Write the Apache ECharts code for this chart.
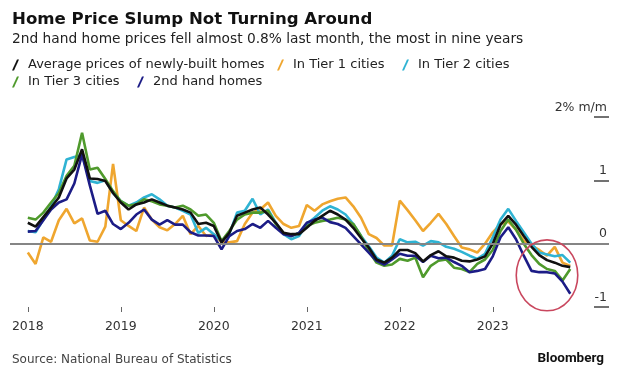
<!DOCTYPE html>
<html>
<head>
<meta charset="utf-8">
<script src="https://cdn.jsdelivr.net/npm/echarts@6/dist/echarts.min.js"></script>
<style>
html,body{margin:0;padding:0;background:#fff;}
#chart{width:620px;height:373px;}
</style>
</head>
<body>
<div id="chart"></div>
<script>
// ---- data (monthly, Jan 2018 .. Nov 2023), % m/m ----
const startYear = 2018;
const yearTicks = ['2018', '2019', '2020', '2021', '2022', '2023'];
const yTickLabels = ['-1', '0', '1', '2% m/m'];

const seriesNames = [
  'Average prices of newly-built homes',
  'In Tier 1 cities',
  'In Tier 2 cities',
  'In Tier 3 cities',
  '2nd hand homes'
];

const newHomes = [
  0.33, 0.27, 0.42, 0.57, 0.73, 1.03, 1.17, 1.49, 1.03, 1.02, 0.99, 0.80,
  0.65, 0.54, 0.62, 0.65, 0.70, 0.65, 0.60, 0.57, 0.54, 0.49, 0.31, 0.33,
  0.28, 0.02, 0.17, 0.44, 0.49, 0.54, 0.57, 0.46, 0.33, 0.17, 0.15, 0.15,
  0.25, 0.36, 0.44, 0.52, 0.46, 0.38, 0.25, 0.09, -0.06, -0.25, -0.30, -0.22,
  -0.10, -0.10, -0.15, -0.28, -0.18, -0.12, -0.20, -0.22, -0.27, -0.28, -0.25, -0.20,
  0.00, 0.30, 0.44, 0.30, 0.12, -0.05, -0.18, -0.26, -0.30, -0.35, -0.37
];
const tier1 = [
  -0.14, -0.32, 0.10, 0.03, 0.37, 0.55, 0.32, 0.40, 0.05, 0.03, 0.27, 1.26,
  0.37, 0.28, 0.20, 0.57, 0.38, 0.26, 0.21, 0.31, 0.44, 0.15, 0.28, 0.12,
  0.15, 0.02, 0.02, 0.04, 0.31, 0.49, 0.54, 0.65, 0.44, 0.31, 0.25, 0.28,
  0.61, 0.52, 0.62, 0.67, 0.71, 0.73, 0.59, 0.41, 0.15, 0.09, -0.03, -0.03,
  0.68, 0.53, 0.37, 0.20, 0.33, 0.47, 0.31, 0.12, -0.06, -0.09, -0.14, 0.00,
  0.18, 0.31, 0.35, 0.22, 0.05, -0.03, -0.10, -0.19, -0.05, -0.30, -0.35
];
const tier2 = [
  0.20, 0.18, 0.38, 0.59, 0.86, 1.33, 1.37, 1.40, 0.99, 0.96, 1.00, 0.80,
  0.67, 0.60, 0.65, 0.73, 0.78, 0.70, 0.60, 0.57, 0.52, 0.46, 0.17, 0.25,
  0.15, 0.04, 0.15, 0.49, 0.52, 0.71, 0.46, 0.54, 0.33, 0.15, 0.07, 0.12,
  0.31, 0.41, 0.52, 0.59, 0.54, 0.46, 0.31, 0.12, -0.04, -0.22, -0.30, -0.19,
  0.07, 0.02, 0.03, -0.03, 0.04, 0.02, -0.05, -0.08, -0.13, -0.19, -0.24, -0.16,
  0.10, 0.38, 0.55, 0.36, 0.18, 0.00, -0.14, -0.17, -0.20, -0.18, -0.30
];
const tier3 = [
  0.41, 0.38, 0.49, 0.65, 0.80, 1.07, 1.23, 1.75, 1.17, 1.20, 1.02, 0.83,
  0.67, 0.60, 0.62, 0.70, 0.67, 0.62, 0.60, 0.57, 0.60, 0.54, 0.44, 0.46,
  0.33, 0.04, 0.20, 0.38, 0.46, 0.49, 0.49, 0.52, 0.31, 0.17, 0.12, 0.17,
  0.28, 0.33, 0.36, 0.38, 0.41, 0.38, 0.31, 0.12, -0.12, -0.30, -0.35, -0.33,
  -0.24, -0.27, -0.22, -0.53, -0.35, -0.27, -0.25, -0.38, -0.40, -0.45, -0.32, -0.25,
  -0.10, 0.20, 0.38, 0.22, 0.00, -0.18, -0.32, -0.40, -0.43, -0.58, -0.40
];
const secondHand = [
  0.19, 0.20, 0.37, 0.54, 0.65, 0.70, 0.95, 1.41, 0.92, 0.47, 0.52, 0.31,
  0.23, 0.33, 0.46, 0.54, 0.38, 0.30, 0.37, 0.30, 0.30, 0.18, 0.13, 0.13,
  0.12, -0.09, 0.12, 0.20, 0.23, 0.31, 0.25, 0.36, 0.25, 0.15, 0.12, 0.17,
  0.33, 0.38, 0.41, 0.34, 0.31, 0.25, 0.12, -0.01, -0.14, -0.27, -0.33, -0.25,
  -0.16, -0.19, -0.19, -0.29, -0.19, -0.23, -0.22, -0.29, -0.35, -0.45, -0.43, -0.40,
  -0.20, 0.10, 0.26, 0.07, -0.19, -0.43, -0.45, -0.45, -0.47, -0.60, -0.79
];

// annotation ellipse in data space: [centre month index, centre value, radius months, radius value]
const highlight = [67.0, -0.5, 3.97, 0.56];

const colors = ['#111111', '#EFA62F', '#2FB3D3', '#4F9A2C', '#1C1C86'];
const seriesData = [newHomes, tier1, tier2, tier3, secondHand];

const FONT = 'DejaVu Sans';
const chart = echarts.init(document.getElementById('chart'), null, {renderer: 'canvas'});

const toPairs = arr => arr.map((v, i) => [i, v]);
const slash = 'path://M0,11 L5,0 L7,0 L2,11 Z';

const legendPos = [[7, 52], [272, 52], [397, 52], [7, 69], [132, 69]];
const legends = seriesNames.map((n, k) => ({
  data: [n],
  left: legendPos[k][0], top: legendPos[k][1],
  icon: slash, itemWidth: 7, itemHeight: 11, itemGap: 0,
  selectedMode: false,
  textStyle: {fontFamily: FONT, fontSize: 13, color: '#222', padding: [0, 0, 0, 4], lineHeight: 16}
}));

const drawOrder = [1, 2, 3, 4, 0];
const series = drawOrder.map(k => ({
  name: seriesNames[k],
  type: 'line',
  data: toPairs(seriesData[k]),
  showSymbol: false,
  symbol: 'none',
  color: colors[k],
  itemStyle: {color: colors[k]},
  lineStyle: {color: colors[k], width: 2.6},
  z: 3,
  silent: true
}));
series.unshift({
  type: 'line', data: [], z: 2, silent: true,
  markLine: {
    silent: true, symbol: 'none', label: {show: false},
    lineStyle: {color: '#858585', width: 1.8, type: 'solid'},
    data: [{yAxis: 0}]
  }
});

const tickIdx = yearTicks.map((y, i) => i * 12);

chart.setOption({
  animation: false,
  backgroundColor: '#fff',
  title: [
    {text: 'Home Price Slump Not Turning Around', left: 7, top: 6,
     textStyle: {fontFamily: FONT, fontSize: 16.6, fontWeight: 'bold', color: '#111'}},
    {text: '2nd hand home prices fell almost 0.8% last month, the most in nine years', left: 7, top: 27,
     textStyle: {fontFamily: FONT, fontSize: 13.75, fontWeight: 'normal', color: '#222'}},
    {text: 'Source: National Bureau of Statistics', left: 7, top: 349,
     textStyle: {fontFamily: FONT, fontSize: 12, fontWeight: 'normal', color: '#444'}},
    {text: 'Bloomberg', right: 11, top: 347,
     textStyle: {fontFamily: 'Roboto', fontSize: 13.5, fontWeight: 'bold', color: '#111'}}
  ],
  legend: legends,
  grid: {left: 10, right: 11, top: 117, bottom: 66},
  xAxis: {
    type: 'value', min: -2.3, max: 75,
    axisLine: {show: false, onZero: false},
    splitLine: {show: false},
    axisTick: {show: true, length: 5, customValues: tickIdx, lineStyle: {color: '#666', width: 1}},
    axisLabel: {
      customValues: tickIdx, margin: 13,
      fontFamily: FONT, fontSize: 12.5, color: '#333',
      formatter: v => String(startYear + Math.round(v / 12))
    }
  },
  yAxis: {
    type: 'value', position: 'right', offset: -15, min: -1, max: 2, interval: 1,
    axisLine: {show: false, onZero: false},
    splitLine: {show: false},
    axisTick: {show: true, inside: false, length: 15, lineStyle: {color: '#444', width: 1.5}},
    axisLabel: {
      inside: false, margin: 13, align: 'right', verticalAlign: 'bottom',
      padding: [0, 0, 3, 0],
      showMinLabel: true, showMaxLabel: true,
      fontFamily: FONT, fontSize: 12.5, color: '#333',
      formatter: v => yTickLabels[Math.round(v) + 1]
    }
  },
  series: series
});

// highlight ellipse positioned from data space
const c = chart.convertToPixel({gridIndex: 0}, [highlight[0], highlight[1]]);
const e = chart.convertToPixel({gridIndex: 0}, [highlight[0] + highlight[2], highlight[1] + highlight[3]]);
chart.setOption({
  graphic: [{
    type: 'ellipse', z: 10, silent: true,
    shape: {cx: c[0], cy: c[1], rx: Math.abs(e[0] - c[0]), ry: Math.abs(e[1] - c[1])},
    style: {fill: 'none', stroke: '#C9475E', lineWidth: 1.6}
  }]
});
</script>
</body>
</html>
